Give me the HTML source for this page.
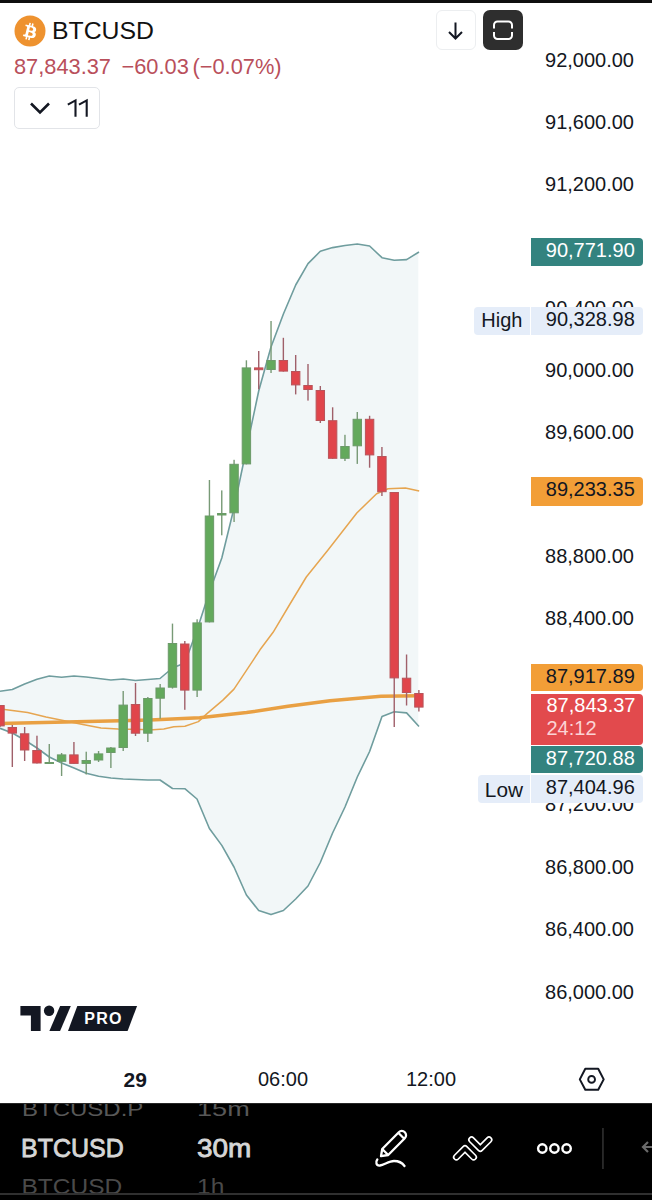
<!DOCTYPE html>
<html><head><meta charset="utf-8">
<style>
html,body{margin:0;padding:0;}
body{width:652px;height:1200px;overflow:hidden;background:#fff;position:relative;font-family:"Liberation Sans",sans-serif;color:#131722;}
.abs{position:absolute;}
.chart{position:absolute;left:0;top:0;}
.topbar{position:absolute;left:0;top:0;width:652px;height:2.5px;background:#0e0e0e;}
.ax{position:absolute;right:18px;height:24px;line-height:24px;font-size:20px;text-align:right;white-space:nowrap;}
.lbl{position:absolute;left:531px;width:111.6px;font-size:20px;text-align:right;box-sizing:border-box;padding-right:7.8px;white-space:nowrap;border-radius:0 4px 4px 0;}
.side{position:absolute;font-size:20px;background:#e5edf9;border-radius:4px 0 0 4px;text-align:center;}
.bbar{position:absolute;left:0;top:1103px;width:652px;height:97px;background:#000;}
</style></head><body>
<svg class="chart" width="652" height="1100" viewBox="0 0 652 1100">
<polygon points="0.0,691.3 12.3,689.5 24.6,684.0 37.0,679.3 49.3,676.0 61.6,677.3 74.0,676.0 86.2,677.0 98.6,678.5 110.9,680.0 123.2,679.0 135.5,680.5 147.8,679.5 160.0,678.5 172.5,668.0 184.8,663.0 197.0,630.0 209.4,592.0 221.8,558.0 234.0,508.0 246.4,449.0 258.7,391.0 271.0,347.0 283.4,314.0 295.7,285.0 308.0,263.6 320.3,251.3 332.6,247.6 345.0,245.5 357.3,244.0 369.6,246.0 382.0,257.7 394.2,260.2 406.6,259.6 418.3,252.6 418.3,725.8 406.6,712.9 394.2,711.8 382.0,716.6 369.6,751.5 357.3,777.0 345.0,807.0 332.6,833.0 320.3,862.5 308.0,886.0 295.7,899.0 283.4,910.5 271.0,914.6 258.7,910.5 246.4,895.0 234.0,867.0 221.8,845.4 209.4,828.5 197.0,799.0 184.8,788.7 172.5,788.5 160.0,780.0 147.8,780.0 135.5,779.5 123.2,779.0 110.9,778.0 98.6,776.3 86.2,773.3 74.0,768.0 61.6,763.0 49.3,757.0 37.0,748.0 24.6,740.0 12.3,733.0 0.0,728.3" fill="#f2f7f8"/>
<polyline points="0.0,691.3 12.3,689.5 24.6,684.0 37.0,679.3 49.3,676.0 61.6,677.3 74.0,676.0 86.2,677.0 98.6,678.5 110.9,680.0 123.2,679.0 135.5,680.5 147.8,679.5 160.0,678.5 172.5,668.0 184.8,663.0 197.0,630.0 209.4,592.0 221.8,558.0 234.0,508.0 246.4,449.0 258.7,391.0 271.0,347.0 283.4,314.0 295.7,285.0 308.0,263.6 320.3,251.3 332.6,247.6 345.0,245.5 357.3,244.0 369.6,246.0 382.0,257.7 394.2,260.2 406.6,259.6 419.0,252.0" fill="none" stroke="#6f9d9e" stroke-width="1.6" stroke-linejoin="round"/>
<polyline points="0.0,728.3 12.3,733.0 24.6,740.0 37.0,748.0 49.3,757.0 61.6,763.0 74.0,768.0 86.2,773.3 98.6,776.3 110.9,778.0 123.2,779.0 135.5,779.5 147.8,780.0 160.0,780.0 172.5,788.5 184.8,788.7 197.0,799.0 209.4,828.5 221.8,845.4 234.0,867.0 246.4,895.0 258.7,910.5 271.0,914.6 283.4,910.5 295.7,899.0 308.0,886.0 320.3,862.5 332.6,833.0 345.0,807.0 357.3,777.0 369.6,751.5 382.0,716.6 394.2,711.8 406.6,712.9 419.0,726.5" fill="none" stroke="#6f9d9e" stroke-width="1.6" stroke-linejoin="round"/>
<polyline points="0.0,709.0 4.6,709.4 27.6,712.6 46.0,717.0 64.4,720.8 82.8,724.5 101.0,728.0 118.0,729.0 153.0,729.8 163.8,729.0 173.8,726.8 184.9,726.2 198.4,721.6 207.0,713.6 222.9,700.1 234.0,689.1 243.8,674.4 253.6,659.6 260.0,649.8 273.1,632.3 290.0,604.0 306.3,577.0 328.0,550.0 356.8,513.0 376.6,493.8 388.0,488.7 405.4,488.0 419.2,491.0" fill="none" stroke="#e6a550" stroke-width="1.5" stroke-linejoin="round"/>
<polyline points="0.0,723.5 120.0,720.7 150.0,720.0 199.7,717.8 246.6,712.6 288.0,706.2 330.0,700.7 381.0,696.3 420.0,695.8" fill="none" stroke="#e9a043" stroke-width="3.5" stroke-linejoin="round"/>
<rect x="-0.70" y="705.0" width="1.4" height="22.0" fill="#a0606a"/>
<rect x="-4.20" y="705.5" width="8.4" height="20.4" fill="#e0454b" stroke="#b8545a" stroke-width="1"/>
<rect x="11.62" y="725.0" width="1.4" height="42.0" fill="#a0606a"/>
<rect x="8.12" y="727.5" width="8.4" height="5.6" fill="#e0454b" stroke="#b8545a" stroke-width="1"/>
<rect x="23.94" y="727.0" width="1.4" height="34.0" fill="#a0606a"/>
<rect x="20.44" y="733.8" width="8.4" height="16.2" fill="#e0454b" stroke="#b8545a" stroke-width="1"/>
<rect x="36.26" y="735.7" width="1.4" height="27.8" fill="#a0606a"/>
<rect x="32.76" y="750.5" width="8.4" height="12.5" fill="#e0454b" stroke="#b8545a" stroke-width="1"/>
<rect x="48.58" y="744.0" width="1.4" height="20.0" fill="#789a76"/>
<rect x="45.08" y="762.5" width="8.4" height="1.0" fill="#63a95c" stroke="#6c9a69" stroke-width="1"/>
<rect x="60.90" y="753.0" width="1.4" height="23.0" fill="#789a76"/>
<rect x="57.40" y="754.9" width="8.4" height="6.4" fill="#63a95c" stroke="#6c9a69" stroke-width="1"/>
<rect x="73.22" y="742.0" width="1.4" height="21.9" fill="#a0606a"/>
<rect x="69.72" y="754.9" width="8.4" height="8.5" fill="#e0454b" stroke="#b8545a" stroke-width="1"/>
<rect x="85.54" y="751.7" width="1.4" height="22.8" fill="#789a76"/>
<rect x="82.04" y="760.5" width="8.4" height="2.9" fill="#63a95c" stroke="#6c9a69" stroke-width="1"/>
<rect x="97.86" y="751.0" width="1.4" height="11.0" fill="#789a76"/>
<rect x="94.36" y="753.9" width="8.4" height="6.1" fill="#63a95c" stroke="#6c9a69" stroke-width="1"/>
<rect x="110.18" y="747.0" width="1.4" height="21.0" fill="#789a76"/>
<rect x="106.68" y="748.0" width="8.4" height="4.5" fill="#63a95c" stroke="#6c9a69" stroke-width="1"/>
<rect x="122.50" y="691.0" width="1.4" height="60.0" fill="#789a76"/>
<rect x="119.00" y="705.1" width="8.4" height="42.4" fill="#63a95c" stroke="#6c9a69" stroke-width="1"/>
<rect x="134.82" y="683.0" width="1.4" height="53.0" fill="#a0606a"/>
<rect x="131.32" y="704.5" width="8.4" height="28.7" fill="#e0454b" stroke="#b8545a" stroke-width="1"/>
<rect x="147.14" y="697.0" width="1.4" height="45.0" fill="#789a76"/>
<rect x="143.64" y="698.5" width="8.4" height="34.7" fill="#63a95c" stroke="#6c9a69" stroke-width="1"/>
<rect x="159.46" y="684.0" width="1.4" height="34.7" fill="#789a76"/>
<rect x="155.96" y="688.0" width="8.4" height="10.2" fill="#63a95c" stroke="#6c9a69" stroke-width="1"/>
<rect x="171.78" y="623.6" width="1.4" height="65.0" fill="#789a76"/>
<rect x="168.28" y="643.5" width="8.4" height="43.7" fill="#63a95c" stroke="#6c9a69" stroke-width="1"/>
<rect x="184.10" y="641.0" width="1.4" height="68.8" fill="#a0606a"/>
<rect x="180.60" y="644.0" width="8.4" height="46.1" fill="#e0454b" stroke="#b8545a" stroke-width="1"/>
<rect x="196.42" y="619.3" width="1.4" height="77.7" fill="#789a76"/>
<rect x="192.92" y="622.9" width="8.4" height="67.2" fill="#63a95c" stroke="#6c9a69" stroke-width="1"/>
<rect x="208.74" y="480.0" width="1.4" height="142.4" fill="#789a76"/>
<rect x="205.24" y="516.0" width="8.4" height="105.9" fill="#63a95c" stroke="#6c9a69" stroke-width="1"/>
<rect x="221.06" y="490.4" width="1.4" height="44.9" fill="#789a76"/>
<rect x="217.56" y="513.5" width="8.4" height="1.5" fill="#63a95c" stroke="#6c9a69" stroke-width="1"/>
<rect x="233.38" y="459.8" width="1.4" height="62.2" fill="#789a76"/>
<rect x="229.88" y="464.3" width="8.4" height="48.5" fill="#63a95c" stroke="#6c9a69" stroke-width="1"/>
<rect x="245.70" y="360.3" width="1.4" height="104.1" fill="#789a76"/>
<rect x="242.20" y="367.9" width="8.4" height="96.0" fill="#63a95c" stroke="#6c9a69" stroke-width="1"/>
<rect x="258.02" y="351.0" width="1.4" height="38.3" fill="#a0606a"/>
<rect x="254.52" y="367.9" width="8.4" height="1.8" fill="#e0454b" stroke="#b8545a" stroke-width="1"/>
<rect x="270.34" y="321.0" width="1.4" height="52.0" fill="#789a76"/>
<rect x="266.84" y="360.5" width="8.4" height="9.0" fill="#63a95c" stroke="#6c9a69" stroke-width="1"/>
<rect x="282.66" y="337.8" width="1.4" height="33.8" fill="#a0606a"/>
<rect x="279.16" y="360.5" width="8.4" height="10.6" fill="#e0454b" stroke="#b8545a" stroke-width="1"/>
<rect x="294.98" y="355.0" width="1.4" height="39.4" fill="#a0606a"/>
<rect x="291.48" y="371.5" width="8.4" height="13.4" fill="#e0454b" stroke="#b8545a" stroke-width="1"/>
<rect x="307.30" y="364.0" width="1.4" height="36.6" fill="#a0606a"/>
<rect x="303.80" y="385.5" width="8.4" height="4.0" fill="#e0454b" stroke="#b8545a" stroke-width="1"/>
<rect x="319.62" y="386.0" width="1.4" height="37.0" fill="#a0606a"/>
<rect x="316.12" y="390.5" width="8.4" height="30.0" fill="#e0454b" stroke="#b8545a" stroke-width="1"/>
<rect x="331.94" y="407.3" width="1.4" height="51.5" fill="#a0606a"/>
<rect x="328.44" y="420.7" width="8.4" height="37.6" fill="#e0454b" stroke="#b8545a" stroke-width="1"/>
<rect x="344.26" y="434.8" width="1.4" height="26.2" fill="#789a76"/>
<rect x="340.76" y="446.5" width="8.4" height="11.8" fill="#63a95c" stroke="#6c9a69" stroke-width="1"/>
<rect x="356.58" y="412.0" width="1.4" height="51.9" fill="#789a76"/>
<rect x="353.08" y="419.3" width="8.4" height="26.5" fill="#63a95c" stroke="#6c9a69" stroke-width="1"/>
<rect x="368.90" y="415.8" width="1.4" height="51.9" fill="#a0606a"/>
<rect x="365.40" y="419.3" width="8.4" height="35.6" fill="#e0454b" stroke="#b8545a" stroke-width="1"/>
<rect x="381.22" y="447.0" width="1.4" height="49.0" fill="#a0606a"/>
<rect x="377.72" y="456.5" width="8.4" height="35.2" fill="#e0454b" stroke="#b8545a" stroke-width="1"/>
<rect x="393.54" y="492.0" width="1.4" height="235.0" fill="#a0606a"/>
<rect x="390.04" y="492.5" width="8.4" height="185.4" fill="#e0454b" stroke="#b8545a" stroke-width="1"/>
<rect x="405.86" y="654.5" width="1.4" height="51.0" fill="#a0606a"/>
<rect x="402.36" y="678.2" width="8.4" height="14.3" fill="#e0454b" stroke="#b8545a" stroke-width="1"/>
<rect x="418.18" y="690.0" width="1.4" height="21.5" fill="#a0606a"/>
<rect x="414.68" y="693.5" width="8.4" height="13.6" fill="#e0454b" stroke="#b8545a" stroke-width="1"/>
</svg>
<div class="topbar"></div>
<!-- header -->
<svg class="abs" style="left:14px;top:15px" width="32" height="32" viewBox="0 0 64 64">
<circle cx="32" cy="32" r="31" fill="#ee922f"/>
<path fill="#fff" transform="translate(32 33.5) scale(0.87) translate(-32 -32)" d="M46.103,27.444c0.637-4.258-2.605-6.547-7.038-8.074l1.438-5.768l-3.511-0.875l-1.4,5.616c-0.923-0.23-1.871-0.447-2.813-0.662l1.41-5.653l-3.509-0.875l-1.439,5.766c-0.764-0.174-1.514-0.346-2.242-0.527l0.004-0.018l-4.842-1.209l-0.934,3.75c0,0,2.605,0.597,2.55,0.634c1.422,0.355,1.679,1.296,1.636,2.042l-1.638,6.571c0.098,0.025,0.225,0.061,0.365,0.117c-0.117-0.029-0.242-0.061-0.371-0.092l-2.296,9.205c-0.174,0.432-0.615,1.08-1.609,0.834c0.035,0.051-2.552-0.637-2.552-0.637l-1.743,4.019l4.569,1.139c0.85,0.213,1.683,0.436,2.503,0.646l-1.453,5.834l3.507,0.875l1.439-5.772c0.958,0.26,1.888,0.5,2.798,0.726l-1.434,5.745l3.511,0.875l1.453-5.823c5.987,1.133,10.489,0.676,12.384-4.739c1.527-4.36-0.076-6.875-3.226-8.515C44.142,32.827,45.806,31.285,46.103,27.444zM38.081,38.693c-1.085,4.36-8.426,2.003-10.806,1.412l1.928-7.729C31.583,32.97,39.215,34.147,38.081,38.693zM39.167,27.381c-0.99,3.966-7.1,1.951-9.082,1.457l1.748-7.01C33.815,22.322,40.198,23.244,39.167,27.381z"/>
</svg>
<div class="abs" style="left:52px;top:15.5px;font-size:24.8px;line-height:30px;color:#111;">BTCUSD</div>
<div class="abs" style="left:14px;top:54px;font-size:21.8px;line-height:26px;color:#b94f5b;white-space:pre;">87,843.37</div><div class="abs" style="left:121.5px;top:54px;font-size:21.8px;line-height:26px;color:#b94f5b;white-space:pre;">−60.03</div><div class="abs" style="left:192.5px;top:54px;font-size:21.8px;line-height:26px;color:#b94f5b;white-space:pre;">(−0.07%)</div>
<div class="abs" style="left:13.5px;top:87px;width:86px;height:42px;box-sizing:border-box;border:1px solid #e2e4e8;border-radius:5px;"></div>
<svg class="abs" style="left:28px;top:100px" width="24" height="16" viewBox="0 0 24 16"><polyline points="3,3.5 12,12.5 21,3.5" fill="none" stroke="#131722" stroke-width="2.6"/></svg>
<svg class="abs" style="left:60px;top:95px" width="35" height="26" viewBox="60 95 35 26"><path d="M75.5 116.8V100.4L67.8 104.6M86.7 116.8V100.4L79 104.6" fill="none" stroke="#131722" stroke-width="2.1" stroke-linejoin="miter"/></svg>
<div class="abs" style="left:435.5px;top:9.5px;width:40px;height:40px;box-sizing:border-box;border:1px solid #eceef0;border-radius:6px;background:#fff;"></div>
<svg class="abs" style="left:435.5px;top:9.5px" width="40" height="40" viewBox="0 0 40 40"><path d="M19.5 12.5V28.5M13 22l6.5 6.5L26 22" fill="none" stroke="#131722" stroke-width="2"/></svg>
<div class="abs" style="left:482.5px;top:9.5px;width:40.5px;height:40.5px;border-radius:7px;background:#2e2e2e;"></div>
<svg class="abs" style="left:482.5px;top:9.5px" width="40" height="40" viewBox="0 0 40 40"><path d="M11 18.5V15a3.5 3.5 0 0 1 3.5-3.5h11A3.5 3.5 0 0 1 29 15v3.5M11 22v3.5A3.5 3.5 0 0 0 14.5 29h11a3.5 3.5 0 0 0 3.5-3.5V22" fill="none" stroke="#fff" stroke-width="2"/></svg>
<!-- axis -->
<div class="ax" style="top:47.7px">92,000.00</div>
<div class="ax" style="top:109.7px">91,600.00</div>
<div class="ax" style="top:171.7px">91,200.00</div>
<div class="ax" style="top:295.7px">90,400.00</div>
<div class="ax" style="top:357.7px">90,000.00</div>
<div class="ax" style="top:419.7px">89,600.00</div>
<div class="ax" style="top:543.7px">88,800.00</div>
<div class="ax" style="top:605.7px">88,400.00</div>
<div class="ax" style="top:791.7px">87,200.00</div>
<div class="ax" style="top:854.7px">86,800.00</div>
<div class="ax" style="top:916.7px">86,400.00</div>
<div class="ax" style="top:979.7px">86,000.00</div>
<div class="lbl" style="top:237.7px;height:28.8px;line-height:25px;background:#33837f;color:#fff;">90,771.90</div>
<div class="side" style="left:474px;top:307px;width:55.8px;height:28px;line-height:26px;">High</div>
<div class="lbl" style="top:307px;height:28px;line-height:25px;background:#e5edf9;color:#131722;">90,328.98</div>
<div class="lbl" style="top:477px;height:28.6px;line-height:25px;background:#f29e37;color:#131722;">89,233.35</div>
<div class="lbl" style="top:664px;height:27.2px;line-height:24px;background:#f29e37;color:#131722;">87,917.89</div>
<div class="lbl" style="top:693.6px;height:51.2px;line-height:23.7px;padding-top:0px;background:#e24a4d;color:#fff;text-align:left;padding-left:15.5px;">87,843.37<br><span style="color:#fbd3d5">24:12</span></div>
<div class="lbl" style="top:745.7px;height:27.3px;line-height:24px;background:#33837f;color:#fff;">87,720.88</div>
<div class="side" style="left:478px;top:775px;width:51.8px;height:27.5px;line-height:30px;font-size:20.8px;">Low</div>
<div class="lbl" style="top:775px;height:27.5px;line-height:24.5px;background:#e5edf9;color:#131722;">87,404.96</div>
<!-- logo -->
<svg class="abs" style="left:0;top:995px" width="150" height="45" viewBox="0 995 150 45">
<path d="M20.4 1005.9H40.6V1031.1H30.9V1015.6H20.4Z" fill="#131722"/>
<circle cx="49.1" cy="1010.7" r="5.2" fill="#131722"/>
<path d="M60.1 1005.9H70.8L60.1 1031.1H49.4Z" fill="#131722"/>
<path d="M77.3 1005.9H137.1L127.6 1030.9H68Z" fill="#131722"/>
<text x="103.5" y="1024" font-family="Liberation Sans" font-weight="bold" font-size="16" letter-spacing="1.3" fill="#fff" text-anchor="middle">PRO</text>
</svg>
<!-- time axis -->
<div class="abs" style="left:123.5px;top:1067.5px;font-size:21px;line-height:24px;font-weight:bold;">29</div>
<div class="abs" style="left:258px;top:1067px;font-size:20px;line-height:24px;">06:00</div>
<div class="abs" style="left:406px;top:1067px;font-size:20px;line-height:24px;">12:00</div>
<svg class="abs" style="left:575px;top:1063px" width="34" height="34" viewBox="575 1063 34 34">
<path d="M585.3 1068.8H598.2L603.7 1079.4L598.2 1089.8H585.3L579.8 1079.4Z" fill="none" stroke="#131722" stroke-width="2" stroke-linejoin="round"/>
<circle cx="591.6" cy="1079.4" r="3.4" fill="none" stroke="#131722" stroke-width="1.9"/>
</svg>
<!-- bottom bar -->
<div class="bbar"></div>
<div class="abs" style="left:0;top:1103px;width:652px;height:1px;background:#262626;"></div>
<div class="abs" style="left:0;top:1104px;width:652px;height:89px;overflow:hidden;">
  <div class="abs" style="left:22px;top:-11px;font-size:24px;line-height:28px;color:#585858;transform:scaleY(0.85);transform-origin:50% 100%;">BTCUSD.P</div>
  <div class="abs" style="left:197px;top:-11px;font-size:24px;line-height:28px;color:#585858;transform:scale(1.13,0.85);transform-origin:0 100%;">15m</div>
  <div class="abs" style="left:21px;top:29px;font-size:24.5px;line-height:30px;color:#d6d6d6;-webkit-text-stroke:0.8px #d6d6d6;transform:scale(1.02,1.08);transform-origin:0 50%;">BTCUSD</div>
  <div class="abs" style="left:196.5px;top:29px;font-size:24.5px;line-height:30px;color:#d6d6d6;-webkit-text-stroke:0.8px #d6d6d6;transform:scale(1.14,1.08);transform-origin:0 50%;">30m</div>
  <div class="abs" style="left:21.5px;top:69.5px;font-size:24.5px;line-height:28px;color:#4a4a4a;transform:scaleY(0.9);transform-origin:50% 0;">BTCUSD</div>
  <div class="abs" style="left:197px;top:69.5px;font-size:24.5px;line-height:28px;color:#4a4a4a;transform:scaleY(0.9);transform-origin:50% 0;">1h</div>
</div>
<div class="abs" style="left:0;top:1193px;width:652px;height:1.5px;background:#303030;"></div>
<svg class="abs" style="left:360px;top:1110px" width="292" height="80" viewBox="360 1110 292 80">
<path d="M382.2 1149L381 1156.2L388.2 1155L404.8 1138.2A4.24 4.24 0 0 0 398.8 1132.2Z M382.2 1149L388.2 1155 M398.26 1132.8L404.2 1138.74" fill="none" stroke="#fff" stroke-width="2.3" stroke-linejoin="round"/>
<path d="M377.3 1159.5C375.5 1162 376 1166 380 1165.5S389 1161 394 1161S402 1162.5 404.5 1166" fill="none" stroke="#fff" stroke-width="2.3" stroke-linecap="round"/>
<path d="M456.4 1157.1L465 1148.5L473.6 1157.1 M471.6 1139.8L480.3 1148.5L489 1139.8" fill="none" stroke="#fff" stroke-width="7" stroke-linecap="round" stroke-linejoin="round"/>
<path d="M456.4 1157.1L465 1148.5L473.6 1157.1 M471.6 1139.8L480.3 1148.5L489 1139.8" fill="none" stroke="#000" stroke-width="3.8" stroke-linecap="round" stroke-linejoin="round"/>
<circle cx="542.3" cy="1148.5" r="4.2" fill="none" stroke="#fff" stroke-width="2.4"/>
<circle cx="554.4" cy="1148.5" r="4.2" fill="none" stroke="#fff" stroke-width="2.4"/>
<circle cx="566.6" cy="1148.5" r="4.2" fill="none" stroke="#fff" stroke-width="2.4"/>
<rect x="602.2" y="1128" width="1.5" height="41" fill="#333"/>
<path d="M652 1147H643M648 1142L643 1147L648 1152" fill="none" stroke="#6a6a6a" stroke-width="2.2"/>
</svg>
</body></html>
